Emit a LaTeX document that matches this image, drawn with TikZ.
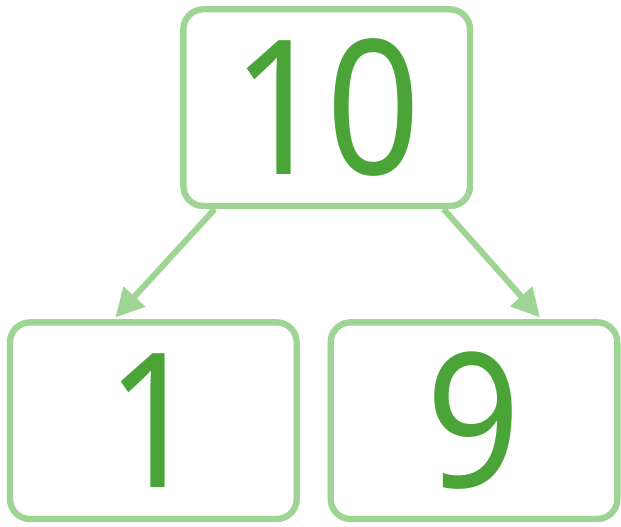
\documentclass[tikz,border=0pt]{standalone}
\usepackage{fontspec}
\setmainfont{Noto Sans}[FakeStretch=0.88]
\usetikzlibrary{arrows.meta, positioning, calc}
\definecolor{boxgreen}{RGB}{158,212,148}
\definecolor{digitgreen}{RGB}{74,164,56}

\begin{document}
\begin{tikzpicture}[
    numbox/.style={draw=boxgreen, line width=0.19cm, rounded corners=0.6cm, minimum width=8.6cm, minimum height=5.9cm, fill=white, text=digitgreen, font=\fontsize{160}{160}\selectfont},
    arr/.style={-{Triangle[length=0.85cm, width=0.85cm]}, draw=boxgreen, line width=0.18cm}
]
\useasboundingbox (0,0) rectangle (18.63,15.78);
\node[numbox] (ten) at (9.8,12.55) {10};
\node[numbox, below=3.3cm of ten, xshift=-5.2cm] (one) {1};
\node[numbox, below=3.3cm of ten, xshift=4.42cm] (nine) {9};

\draw[arr] ($(ten.south)+(-3.36,0)$) -- ($(one.north)+(-1.14,0.05)$);
\draw[arr] ($(ten.south)+(3.51,0)$) -- ($(nine.north)+(1.98,0.05)$);
\end{tikzpicture}
\end{document}
